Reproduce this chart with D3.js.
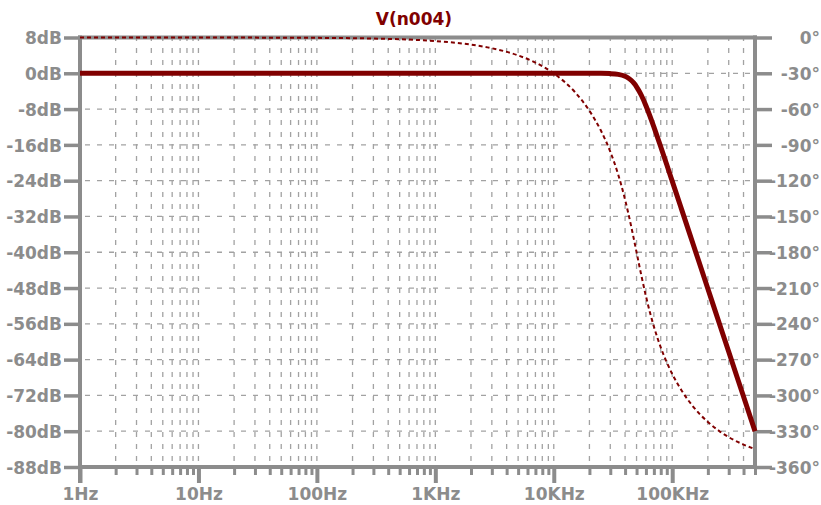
<!DOCTYPE html>
<html>
<head>
<meta charset="utf-8">
<script src="https://cdn.jsdelivr.net/npm/d3@7"></script>
<style>
  html, body { margin: 0; padding: 0; background: #ffffff; }
  svg { display: block; }
  text { font-family: "DejaVu Sans", sans-serif; font-weight: bold; }
</style>
</head>
<body>
<svg id="chart" width="821" height="505"></svg>
<script>
// ---- data ----
const title = "V(n004)";
const freqHz = [1, 10, 100, 300, 1000, 2000, 3000, 5000, 7000, 10000, 15000, 20000, 25000, 30000, 35000, 40000, 42500, 45000, 47500, 50000, 52500, 55000, 60000, 65000, 70000, 80000, 90000, 100000, 120000, 150000, 200000, 250000, 300000, 400000, 500000];
const magDb = [0, 0, 0, 0, 0, 0, 0, 0, 0, 0, 0, -0.003, -0.017, -0.072, -0.243, -0.674, -1.046, -1.555, -2.21, -3.01, -3.94, -4.97, -7.24, -9.62, -11.98, -16.43, -20.46, -24.10, -30.42, -38.17, -48.16, -55.92, -62.25, -72.25, -80.0];
const phaseDeg = [-0.003, -0.03, -0.3, -0.9, -3.0, -6.0, -9.0, -15.0, -21.0, -30.1, -45.5, -61.4, -78.0, -95.7, -114.9, -135.9, -146.9, -158.1, -169.2, -180.0, -190.3, -199.9, -216.8, -230.8, -242.2, -259.7, -272.4, -282.0, -295.9, -309.3, -322.2, -329.9, -335.0, -341.2, -345.0];
const dbTicks = [8, 0, -8, -16, -24, -32, -40, -48, -56, -64, -72, -80, -88];
const phaseTicks = [0, -30, -60, -90, -120, -150, -180, -210, -240, -270, -300, -330, -360];
const freqMajorTicks = [1, 10, 100, 1000, 10000, 100000];
const freqMajorLabels = ["1Hz", "10Hz", "100Hz", "1KHz", "10KHz", "100KHz"];

// ---- layout ----
const L = 80, R = 755, T = 37.5, B = 467;
const axisCol = "#8c8c8c", gridCol = "#a2a2a2", trace = "#800000";

const svg = d3.select("#chart");
const x = d3.scaleLog().domain([1, 500000]).range([L, R]);
const y = d3.scaleLinear().domain([-88, 8]).range([B, T]);
const yp = d3.scaleLinear().domain([-360, 0]).range([B, T]);

// minor frequencies (2..9 per decade) up to 500K
const minorFreqs = [];
for (let dec = 1; dec <= 100000; dec *= 10) {
  for (let m = 2; m <= 9; m++) { const f = m * dec; if (f <= 500000) minorFreqs.push(f); }
}
const gridFreqs = minorFreqs.concat(freqMajorTicks.filter(f => f > 1));

// ---- grid ----
const grid = svg.append("g");
grid.selectAll("line.v").data(gridFreqs).join("line")
  .attr("x1", d => x(d)).attr("x2", d => x(d))
  .attr("y1", T).attr("y2", B)
  .attr("stroke", gridCol).attr("stroke-width", 1.3)
  .attr("stroke-dasharray", "5,7").attr("stroke-dashoffset", 1.5);
grid.selectAll("line.h").data(dbTicks.filter(d => d < 8 && d > -88)).join("line")
  .attr("x1", L).attr("x2", R)
  .attr("y1", d => y(d)).attr("y2", d => y(d))
  .attr("stroke", gridCol).attr("stroke-width", 1.3)
  .attr("stroke-dasharray", "5,7").attr("stroke-dashoffset", 7);

// ---- axes ----
function styleAxis(g) {
  g.select(".domain").remove();
  g.selectAll(".tick line").attr("stroke", axisCol);
  g.selectAll(".tick text").attr("fill", axisCol).attr("font-size", 17)
    .attr("font-family", "DejaVu Sans, sans-serif").attr("font-weight", "bold");
}

// left dB axis
const gl = svg.append("g").attr("transform", `translate(${L},0)`)
  .call(d3.axisLeft(y).tickValues(dbTicks).tickFormat(d => d + "dB").tickSize(16).tickPadding(2));
styleAxis(gl);
gl.selectAll(".tick line").attr("stroke-width", 3.5);
gl.selectAll(".tick text").attr("dy", "0.36em");

// right phase axis
const gr = svg.append("g").attr("transform", `translate(${R},0)`)
  .call(d3.axisRight(yp).tickValues(phaseTicks).tickFormat(d => d + "°").tickSize(17));
styleAxis(gr);
gr.selectAll(".tick line").attr("stroke-width", 3.5);
gr.selectAll(".tick text").attr("text-anchor", "end").attr("x", 65).attr("dy", "0.36em");

// bottom minor ticks
const gbm = svg.append("g").attr("transform", `translate(0,${B})`)
  .call(d3.axisBottom(x).tickValues(minorFreqs).tickFormat("").tickSize(8));
styleAxis(gbm);
gbm.selectAll(".tick line").attr("stroke-width", 3);

// bottom major ticks + labels
const gb = svg.append("g").attr("transform", `translate(0,${B})`)
  .call(d3.axisBottom(x).tickValues(freqMajorTicks)
    .tickFormat((d, i) => freqMajorLabels[i]).tickSize(16).tickPadding(5));
styleAxis(gb);
gb.selectAll(".tick line").attr("stroke-width", 4);

// frame lines
const frame = svg.append("g").attr("stroke", axisCol).attr("stroke-width", 4).attr("fill", "none");
frame.append("line").attr("x1", L).attr("x2", L).attr("y1", T - 2).attr("y2", B + 16);
frame.append("line").attr("x1", R).attr("x2", R).attr("y1", T - 2).attr("y2", B + 2);
frame.append("line").attr("x1", L - 2).attr("x2", R + 2).attr("y1", T).attr("y2", T);
frame.append("line").attr("x1", L - 2).attr("x2", R + 2).attr("y1", B).attr("y2", B);

// ---- traces ----
const pts = freqHz.map((f, i) => ({ f, m: magDb[i], p: phaseDeg[i] }));
svg.append("path").datum(pts)
  .attr("fill", "none").attr("stroke", trace).attr("stroke-width", 2)
  .attr("stroke-dasharray", "4,3")
  .attr("d", d3.line().x(d => x(d.f)).y(d => yp(d.p)).curve(d3.curveMonotoneX));
svg.append("path").datum(pts)
  .attr("fill", "none").attr("stroke", trace).attr("stroke-width", 5)
  .attr("stroke-linejoin", "round")
  .attr("d", d3.line().x(d => x(d.f)).y(d => y(d.m)).curve(d3.curveMonotoneX));

// ---- title ----
svg.append("text").attr("x", 414).attr("y", 25).attr("text-anchor", "middle")
  .attr("fill", trace).attr("font-size", 17).text(title);
</script>
</body>
</html>
